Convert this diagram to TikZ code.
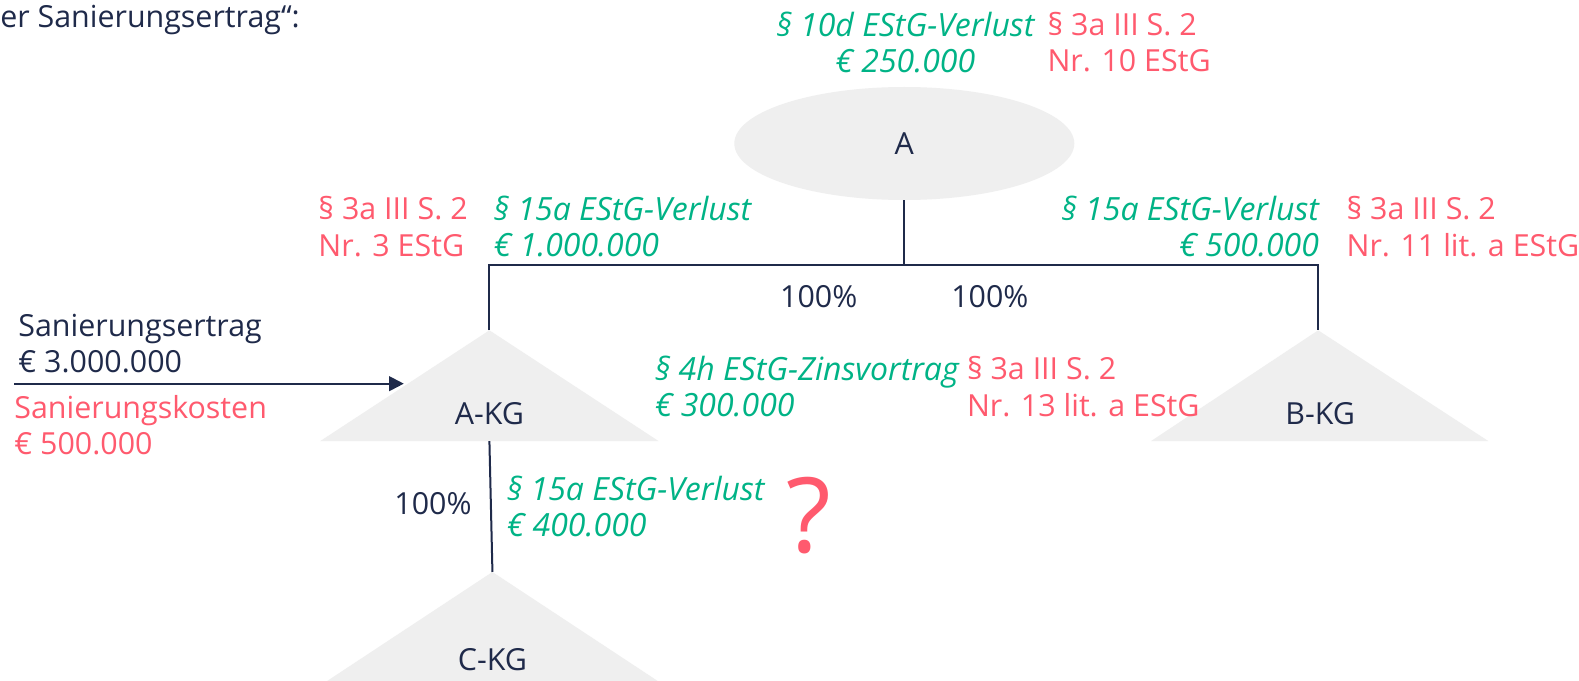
\documentclass[tikz,border=0pt]{standalone}
\usepackage{fontspec}
\setmainfont{Open Sans}
\usetikzlibrary{arrows.meta,shapes.geometric}
\definecolor{navy}{HTML}{1F2A4A}
\definecolor{grn}{HTML}{00B386}
\definecolor{rd}{HTML}{FF5A6E}
\definecolor{shapegray}{HTML}{EFEFEF}
\begin{document}
\begin{tikzpicture}[x=0.75526pt,y=-0.75526pt,
  txt/.style={inner sep=0pt, font=\fontsize{22.8}{27.2}\selectfont},
  navytxt/.style={txt, text=navy},
  redtxt/.style={txt, text=rd},
  grntxt/.style={txt, text=grn, font=\fontsize{24}{27.2}\selectfont\itshape},
  conn/.style={draw=navy, line width=1.5pt},
  tri/.style={fill=shapegray}]
\useasboundingbox (0,0) rectangle (1568,675.27);
\clip (0,0) rectangle (1568,675.27);
\fill[white] (0,0) rectangle (1568,675.27);

% title
\node[navytxt, anchor=west] (title) at (0,20) {er Sanierungsertrag“:};

% ellipse A
\node[ellipse, fill=shapegray, minimum width=255pt, minimum height=84.75pt, inner sep=0pt, text=navy, font=\fontsize{22.8}{27}\selectfont] (A) at (898,142.5) {A};

% triangles
\coordinate (akgtop) at (486,328);
\coordinate (akgbot) at (486,438);
\fill[tri] (akgtop) -- (654,438) -- (318,438) -- cycle;
\node[navytxt] (akg) at (486,411) {A-KG};

\coordinate (bkgtop) at (1309,328);
\fill[tri] (bkgtop) -- (1478,438) -- (1143,438) -- cycle;
\node[navytxt] (bkg) at (1311,411) {B-KG};

\coordinate (ckgtop) at (489,568);
\fill[tri] (ckgtop) -- (674,690) -- (304,690) -- cycle;
\node[navytxt] (ckg) at (489,655) {C-KG};

% connectors
\coordinate (jn) at (898,263);
\draw[conn] (A.south) -- (jn);
\draw[conn] (akgtop) -- (akgtop |- jn) -- (bkgtop |- jn) -- (bkgtop);
\draw[conn] (akgbot) -- (ckgtop);

\coordinate (arrstart) at (14,381);
\coordinate (arrend) at (401,381);
\draw[conn, -{Triangle[length=11pt,width=11pt]}] (arrstart) -- (arrend);

% labels
\node[grntxt, align=center, anchor=center] (l10d) at (899,42) {§ 10d EStG-Verlust\\€ 250.000};
\node[redtxt, align=left, anchor=west] (r10) at (1040,42) {§ 3a III S. 2\\Nr. 10 EStG};

\node[redtxt, align=left, anchor=west] (r3) at (316,225) {§ 3a III S. 2\\Nr. 3 EStG};
\node[grntxt, align=left, anchor=west] (l15a) at (490,225) {§ 15a EStG-Verlust\\€ 1.000.000};

\node[grntxt, align=right, anchor=east] (l15b) at (1310,225) {§ 15a EStG-Verlust\\€ 500.000};
\node[redtxt, align=left, anchor=west] (r11) at (1337,225) {§ 3a III S. 2\\Nr. 11 lit. a EStG};

\node[navytxt] (p1) at (813,295) {100\%};
\node[navytxt] (p2) at (983,295) {100\%};

\node[navytxt, align=left, anchor=west] (ertrag) at (18,341) {Sanierungsertrag\\€ 3.000.000};
\node[redtxt, align=left, anchor=west] (kosten) at (14,422) {Sanierungskosten\\€ 500.000};

\node[grntxt, align=left, anchor=west] (l4h) at (650,384) {§ 4h EStG-Zinsvortrag\\€ 300.000};
\node[redtxt, align=left, anchor=west] (r13) at (960,384) {§ 3a III S. 2\\Nr. 13 lit. a EStG};

\node[navytxt] (p3) at (430,500) {100\%};
\node[grntxt, align=left, anchor=west] (l15c) at (503,503) {§ 15a EStG-Verlust\\€ 400.000};

\node[text=rd, inner sep=0pt, font=\fontsize{78}{78}\selectfont] (q) at (803,512) {?};
\end{tikzpicture}
\end{document}
